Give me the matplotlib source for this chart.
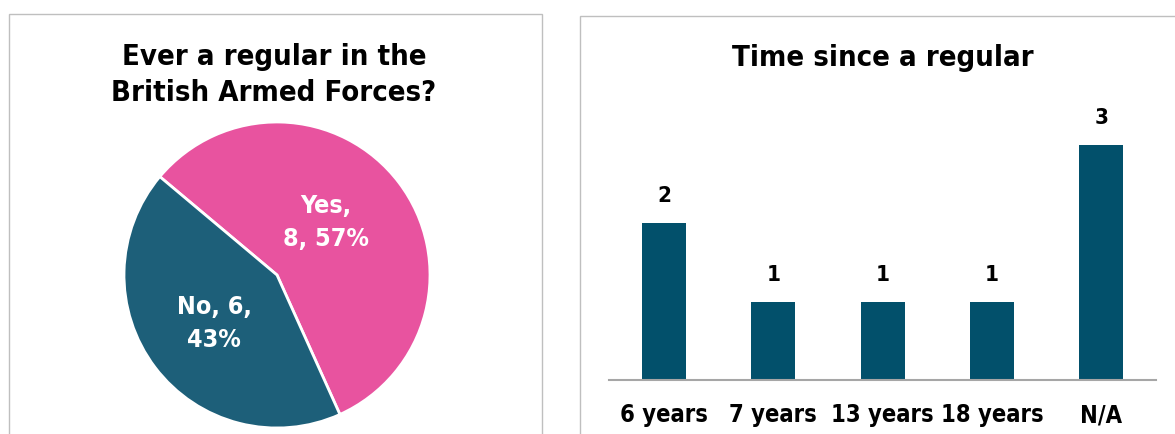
import matplotlib
matplotlib.use("Agg")
import matplotlib.pyplot as plt
from matplotlib import font_manager
from matplotlib.patches import Rectangle
import numpy as np

# ---------------- data ----------------
pie_labels = ["Yes", "No"]
pie_values = [8, 6]
pie_colors = ["#E8539F", "#1D5F79"]

bar_categories = ["6 years", "7 years", "13 years", "18 years", "N/A"]
bar_values = [2, 1, 1, 1, 3]
bar_color = "#02506B"

left_title = ["Ever a regular in the", "British Armed Forces?"]
right_title = "Time since a regular"

# ---------------- fonts ----------------
W, H = 1175, 435
fp_test = font_manager.FontProperties(family="DejaVu Sans", stretch="condensed", weight="bold")
path = font_manager.findfont(fp_test, fallback_to_default=True)
CONDENSED = "ondensed" in path
STRETCH = "condensed" if CONDENSED else "normal"
k = 1.0 if CONDENSED else 0.9
FONT = dict(family="DejaVu Sans", fontstretch=STRETCH, fontweight="bold")

fig = plt.figure(figsize=(W / 100, H / 100), dpi=100)
fig.patch.set_facecolor("white")


def fx(px):
    return px / W


def fy(py):
    return 1 - py / H


# panel borders
fig.add_artist(Rectangle((fx(8.5), fy(460)), fx(541.5) - fx(8.5), fy(14.5) - fy(460),
                         transform=fig.transFigure, fill=False, edgecolor="#BFBFBF", lw=1.0))
fig.add_artist(Rectangle((fx(579.5), fy(460)), fx(1200) - fx(579.5), fy(16.5) - fy(460),
                         transform=fig.transFigure, fill=False, edgecolor="#BFBFBF", lw=1.0))

# ---------------- pie ----------------
cx, cy, r = 277, 276, 153
axp = fig.add_axes([fx(cx - r), fy(cy + r), (2 * r) / W, (2 * r) / H])
wedges, _ = axp.pie(pie_values, colors=pie_colors, startangle=140, counterclock=False,
                    radius=1.0, wedgeprops=dict(edgecolor="white", linewidth=2.0))
axp.set_xlim(-1, 1)
axp.set_ylim(-1, 1)
axp.set_aspect("auto")
axp.axis("off")

total = sum(pie_values)
label_pos = [(0.32, 0.35), (-0.41, -0.31)]
label_lines = [
    [f"{pie_labels[0]},", f"{pie_values[0]}, {round(100 * pie_values[0] / total)}%"],
    [f"{pie_labels[1]}, {pie_values[1]},", f"{round(100 * pie_values[1] / total)}%"],
]
for (lx, ly), lines in zip(label_pos, label_lines):
    axp.text(lx, ly + 0.108, lines[0], ha="center", va="center", color="white",
             fontsize=18 * k, **FONT)
    axp.text(lx, ly - 0.108, lines[1], ha="center", va="center", color="white",
             fontsize=18 * k, **FONT)

# titles
fig.text(fx(274), fy(65), left_title[0], ha="center", va="baseline", fontsize=21 * k,
         color="black", **FONT)
fig.text(fx(274), fy(101), left_title[1], ha="center", va="baseline", fontsize=21 * k,
         color="black", **FONT)
fig.text(fx(883), fy(66), right_title, ha="center", va="baseline", fontsize=21 * k,
         color="black", **FONT)

# ---------------- bars ----------------
x0, x1, base, top = 609.3, 1156.0, 381.0, 107.0
axb = fig.add_axes([fx(x0), fy(base), (x1 - x0) / W, (base - top) / H])
xpos = np.arange(len(bar_categories))
bars = axb.bar(xpos, bar_values, width=0.4, color=bar_color)
axb.set_xlim(-0.5, len(bar_categories) - 0.5)
axb.set_ylim(0, 3.5)
axb.bar_label(bars, labels=[str(v) for v in bar_values], padding=13,
              fontsize=16 * k, color="black", **FONT)
axb.set_xticks(xpos)
axb.set_xticklabels(bar_categories, fontsize=17 * k, color="black", **FONT)
axb.tick_params(axis="x", length=0, pad=16)
axb.set_yticks([])
for s in ["top", "left", "right"]:
    axb.spines[s].set_visible(False)
axb.spines["bottom"].set_color("#A6A6A6")
axb.spines["bottom"].set_linewidth(1.5)
axb.patch.set_alpha(0)

fig.savefig("out.png", dpi=100, facecolor="white")
